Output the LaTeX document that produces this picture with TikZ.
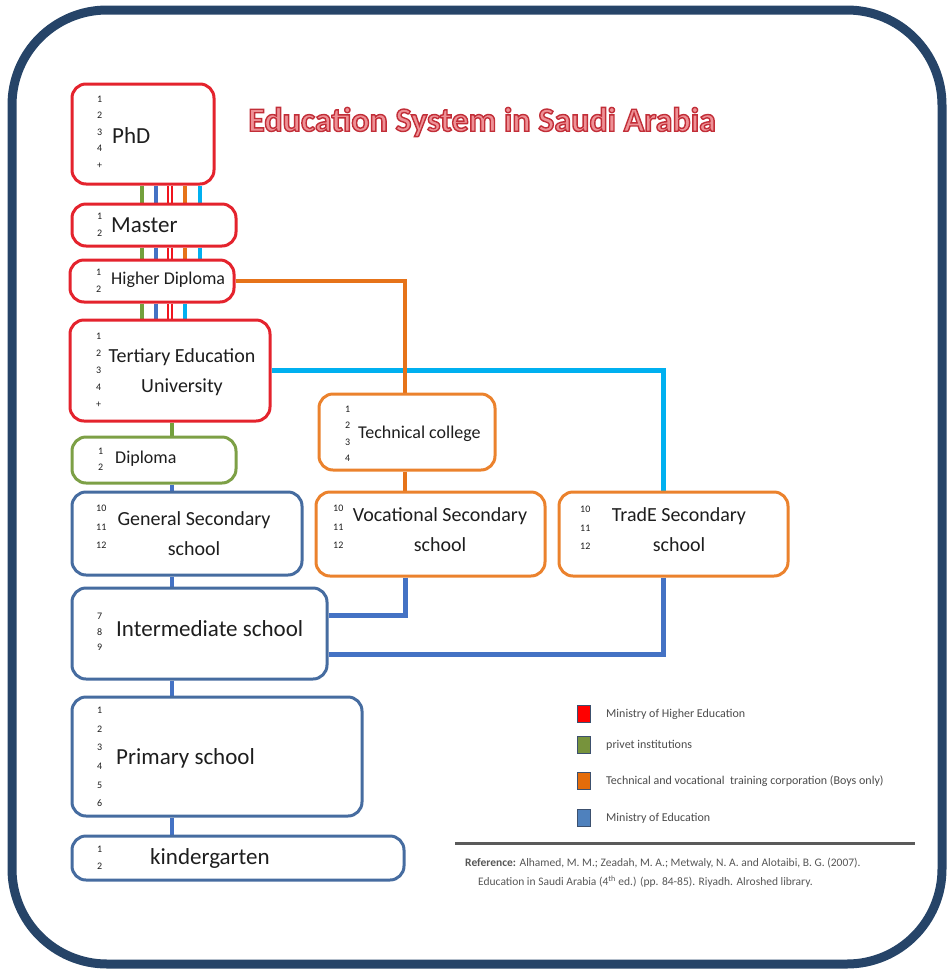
\documentclass[tikz,border=0pt]{standalone}
\usepackage{fontspec}
\setmainfont{Carlito}
\usetikzlibrary{positioning,backgrounds}

\definecolor{frameblue}{RGB}{38,68,104}
\definecolor{bred}{RGB}{228,35,45}
\definecolor{bgreen}{RGB}{125,160,70}
\definecolor{borange}{RGB}{235,130,45}
\definecolor{bblue}{RGB}{70,108,160}
\definecolor{lred}{RGB}{240,20,30}
\definecolor{lgreen}{RGB}{115,160,60}
\definecolor{lorange}{RGB}{230,115,25}
\definecolor{lblue}{RGB}{68,114,196}
\definecolor{lcyan}{RGB}{0,176,240}
\definecolor{tfill}{RGB}{238,145,150}
\definecolor{inkgray}{RGB}{30,30,30}
\definecolor{keyedge}{RGB}{60,80,110}
\definecolor{kred}{RGB}{255,0,0}
\definecolor{kgreen}{RGB}{119,147,60}
\definecolor{korange}{RGB}{228,108,10}
\definecolor{kblue}{RGB}{79,129,189}
\definecolor{rulegray}{RGB}{90,90,90}

% outlined title text: fill, then stroke in dark red
\newcommand{\outlined}[1]{\special{pdf:literal direct 2 Tr 1.4 w 0.76 0.18 0.22 RG}#1\special{pdf:literal direct 0 Tr}}

\begin{document}
\begin{tikzpicture}[
  x=1pt, y=-1pt,
  stage/.style={draw=#1, line width=3pt, rounded corners=14pt, fill=white, inner sep=0pt},
  grades/.style={font=\fontsize{10}{#1}\selectfont, align=left, anchor=west, inner sep=0pt, text=inkgray},
  lbig/.style={font=\fontsize{23}{28}\selectfont, anchor=west, inner sep=0pt, text=inkgray},
  lsmall/.style={font=\fontsize{18}{22}\selectfont, anchor=west, inner sep=0pt, text=inkgray},
  lmid/.style={font=\fontsize{20}{30}\selectfont, align=center, inner sep=0pt, text=inkgray},
  link/.style={draw=#1, line width=4.5pt},
  redlink/.style={draw=lred, line width=1.6pt, double=white, double distance=2pt},
  keybox/.style={draw=keyedge, line width=1pt, minimum width=13pt, minimum height=17pt, inner sep=0pt},
  keytext/.style={font=\fontsize{12}{14}\selectfont, text=inkgray!80, inner sep=0pt}
]
\useasboundingbox (0,0) rectangle (950,970);

% ---------- frame and title ----------
\draw[line width=9pt, draw=frameblue, rounded corners=95pt] (12,10) rectangle (942,964);
\node[text=tfill, font=\fontsize{34}{40}\selectfont\bfseries] (title) at (482,122)
  {\outlined{Education System in Saudi Arabia}};

% ---------- stages ----------
\node[stage=bred, minimum width=142pt, minimum height=100pt] (phd) at (143,134) {};
\node[stage=bred, minimum width=164pt, minimum height=42pt] (master) at (154,225) {};
\node[stage=bred, minimum width=164pt, minimum height=42pt] (hdip) at (152,281) {};
\node[stage=bred, minimum width=200pt, minimum height=101pt] (tert) at (170,370.5) {};
\node[stage=bgreen, minimum width=164pt, minimum height=46pt] (dipl) at (154,460) {};
\node[stage=bblue, minimum width=230pt, minimum height=83pt] (gensec) at (187,533.5) {};
\node[stage=bblue, minimum width=255pt, minimum height=91pt] (inter) at (199.5,633.5) {};
\node[stage=bblue, minimum width=290pt, minimum height=119pt] (prim) at (217,756.5) {};
\node[stage=bblue, minimum width=332pt, minimum height=44pt] (kinder) at (238,858) {};
\node[stage=borange, minimum width=176pt, minimum height=76pt] (tech) at (407,432) {};
\node[stage=borange, minimum width=229pt, minimum height=84pt] (voc) at (430.5,534) {};
\node[stage=borange, minimum width=229pt, minimum height=84pt] (trade) at (673.5,534) {};

% ---------- grades and names ----------
\node[grades=16.5] (phdg) at (97,132) {1\\2\\3\\4\\+};
\node[lbig] (phdl) at (112,136) {PhD};
\node[grades=17] (masterg) at (97,225) {1\\2};
\node[lbig] (masterl) at (111,225) {Master};
\node[grades=17] (hdipg) at (96,281) {1\\2};
\node[lsmall] (hdipl) at (111,280) {Higher Diploma};
\node[grades=17] (tertg) at (96,370) {1\\2\\3\\4\\+};
\node[lmid] (tertl) at (182,372) {Tertiary Education\\University};
\node[grades=16] (diplg) at (98,459) {1\\2};
\node[lsmall] (dipll) at (115,459) {Diploma};
\node[grades=18.5] (gensecg) at (96,527) {10\\11\\12};
\node[lmid] (gensecl) at (194,534) {General Secondary\\school};
\node[grades=15.5] (interg) at (97,632) {7\\8\\9};
\node[lbig] (interl) at (116,629) {Intermediate school};
\node[grades=18.7] (primg) at (97,757) {1\\2\\3\\4\\5\\6};
\node[lbig] (priml) at (116,758) {Primary school};
\node[grades=17] (kinderg) at (97,858) {1\\2};
\node[lbig] (kinderl) at (150,858) {kindergarten};
\node[grades=16.5] (techg) at (345,434) {1\\2\\3\\4};
\node[lsmall] (techl) at (358,434) {Technical college};
\node[grades=18.5] (vocg) at (333,527) {10\\11\\12};
\node[lmid] (vocl) at (440,530) {Vocational Secondary\\school};
\node[grades=18.5] (tradeg) at (580,528) {10\\11\\12};
\node[lmid] (tradel) at (679,530) {TradE Secondary\\school};

% ---------- connectors ----------
\coordinate (lg) at (142,0);
\coordinate (lb) at (156,0);
\coordinate (lr) at (170,0);
\coordinate (lo) at (185,0);
\coordinate (lc) at (200,0);
\coordinate (spine) at (172,0);
\coordinate (techdrop) at ([xshift=-2pt]tech.south);

\begin{scope}[on background layer]
\foreach \a/\b in {phd/master, master/hdip} {
  \draw[link=lgreen] (lg |- \a.south) -- (lg |- \b.north);
  \draw[link=lblue] (lb |- \a.south) -- (lb |- \b.north);
  \draw[redlink] (lr |- \a.south) -- (lr |- \b.north);
  \draw[link=lorange] (lo |- \a.south) -- (lo |- \b.north);
  \draw[link=lcyan] (lc |- \a.south) -- (lc |- \b.north);
}
\draw[link=lgreen] (lg |- hdip.south) -- (lg |- tert.north);
\draw[link=lblue] (lb |- hdip.south) -- (lb |- tert.north);
\draw[redlink] (lr |- hdip.south) -- (lr |- tert.north);
\draw[link=lcyan] (lo |- hdip.south) -- (lo |- tert.north);

\draw[link=lgreen] (spine |- tert.south) -- (spine |- dipl.north);
\foreach \a/\b in {dipl/gensec, gensec/inter, inter/prim, prim/kinder}
  \draw[link=lblue] (spine |- \a.south) -- (spine |- \b.north);

\draw[link=lcyan] (tert.east) -| ([xshift=-10pt]trade.north);
\draw[link=lorange] (hdip.east) -| ([xshift=-2pt]tech.north);
\draw[link=lorange] (techdrop) -- (techdrop |- voc.north);
\draw[link=lblue] ([xshift=-25pt]voc.south) |- ([yshift=18pt]inter.east);
\draw[link=lblue] ([xshift=-10pt]trade.south) |- ([yshift=-21pt]inter.east);
\end{scope}

% ---------- legend ----------
\node[keybox, fill=kred] (kmhe) at (584,714) {};
\node[keytext, right=15pt of kmhe] (tmhe) {Ministry of Higher Education};
\node[keybox, fill=kgreen] (kpriv) at (584,745) {};
\node[keytext, right=15pt of kpriv] (tpriv) {privet institutions};
\node[keybox, fill=korange] (ktvt) at (584,781) {};
\node[keytext, right=15pt of ktvt] (ttvt) {Technical and vocational\ \ training corporation (Boys only)};
\node[keybox, fill=kblue] (kmoe) at (584,818) {};
\node[keytext, right=15pt of kmoe] (tmoe) {Ministry of Education};

% ---------- reference ----------
\draw[line width=3pt, draw=rulegray] (455,843) -- (915,843);
\node[anchor=north west, align=left, font=\fontsize{11.5}{19}\selectfont, text=inkgray!75, inner sep=0pt] (ref) at (465,858)
  {\textbf{Reference:} Alhamed, M. M.; Zeadah, M. A.; Metwaly, N. A. and Alotaibi, B. G. (2007).\\
   \hspace*{13pt}Education in Saudi Arabia (4\textsuperscript{th} ed.) (pp. 84-85). Riyadh. Alroshed library.};
\end{tikzpicture}
\end{document}
